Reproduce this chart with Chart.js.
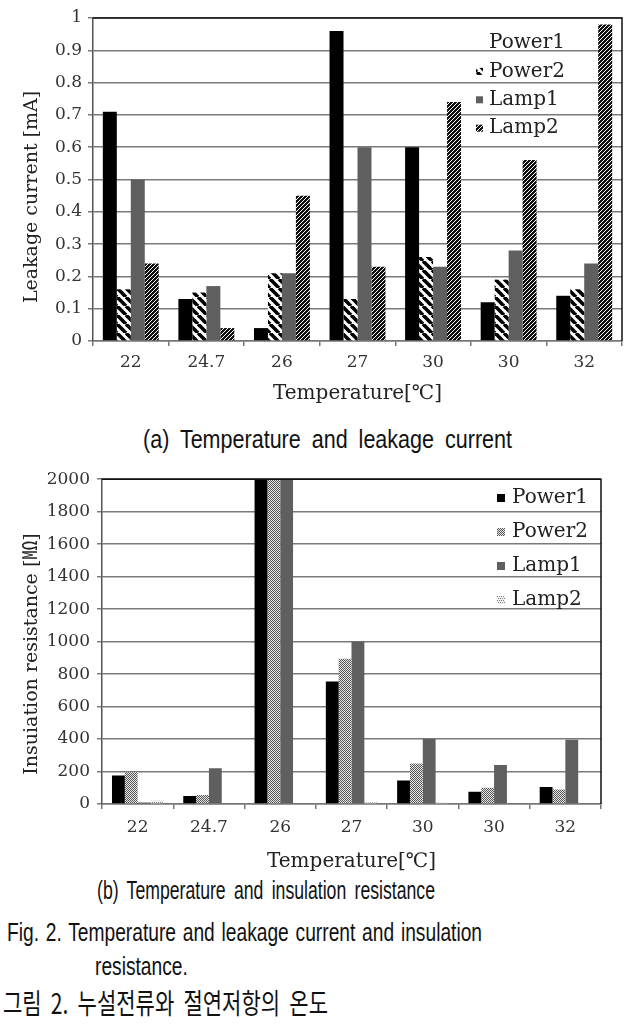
<!DOCTYPE html>
<html>
<head>
<meta charset="utf-8">
<script src="https://cdn.jsdelivr.net/npm/chart.js@4.4.1/dist/chart.umd.min.js"></script>
<style>
  html, body { margin: 0; padding: 0; background: #fff; }
  body { width: 641px; height: 1027px; position: relative; overflow: hidden; }
  canvas { position: absolute; left: 0; }
  #leakChart { top: 0; }
  #resChart { top: 462px; }
  .cap {
    position: absolute; white-space: nowrap; transform-origin: 0 0; color: #111;
    font-family: "Liberation Sans", Arial, sans-serif; font-size: 26px; line-height: 26px;
  }
  #capKor { font-family: "Noto Sans CJK KR", sans-serif; font-size: 28px; line-height: 28px; }
</style>
</head>
<body>
<canvas id="leakChart" width="641" height="410"></canvas>
<canvas id="resChart" width="641" height="412"></canvas>

<div class="cap" id="capA" style="left:143px;top:426px;word-spacing:6px">(a) Temperature and leakage current</div>
<div class="cap" id="capB" style="left:97px;top:877px;word-spacing:5px">(b) Temperature and insulation resistance</div>
<div class="cap" id="capFig" style="left:7px;top:919px;word-spacing:2px">Fig. 2. Temperature and leakage current and insulation</div>
<div class="cap" id="capFig2" style="left:95px;top:953px;word-spacing:2px">resistance.</div>
<div class="cap" id="capKor" style="left:3px;top:988px;word-spacing:6px">그림 2. 누설전류와 절연저항의 온도</div>

<script>
// Data
const temps = ['22', '24.7', '26', '27', '30', '30', '32'];
const seriesNames = ['Power1', 'Power2', 'Lamp1', 'Lamp2'];

// (a) leakage current [mA]
const leakPower1 = [0.71, 0.13, 0.04, 0.96, 0.60, 0.12, 0.14];
const leakPower2 = [0.16, 0.15, 0.21, 0.13, 0.26, 0.19, 0.16];
const leakLamp1  = [0.50, 0.17, 0.21, 0.60, 0.23, 0.28, 0.24];
const leakLamp2  = [0.24, 0.04, 0.45, 0.23, 0.74, 0.56, 0.98];

// (b) insulation resistance [MOhm]
const resPower1 = [175, 50, 2000, 755, 145, 75, 105];
const resPower2 = [195, 55, 2000, 895, 250, 100, 90];
const resLamp1  = [10, 220, 2000, 1000, 400, 240, 395];
const resLamp2  = [20, 0, 0, 10, 8, 0, 0];

const leakTicks = { min: 0, max: 1, step: 0.1 };
const resTicks = { min: 0, max: 2000, step: 200 };

const serif = '"DejaVu Serif", "Noto Sans CJK KR", serif';

// Fill patterns
function makePattern(size, draw) {
  const c = document.createElement('canvas');
  c.width = c.height = size;
  const g = c.getContext('2d');
  draw(g, size);
  return g.createPattern(c, 'repeat');
}

const stripeWide = makePattern(9, (g, s) => {
  g.fillStyle = '#fff';
  g.fillRect(0, 0, s, s);
  g.strokeStyle = '#000';
  g.lineWidth = 3.6;
  for (let k = -s; k <= s; k += s) {
    g.beginPath(); g.moveTo(k, 0); g.lineTo(k + s, s); g.stroke();
  }
});

const hatchFine = makePattern(4, (g, s) => {
  g.fillStyle = '#111';
  g.fillRect(0, 0, s, s);
  g.strokeStyle = '#fff';
  g.lineWidth = 1;
  for (let k = 0; k <= 2 * s; k += s) {
    g.beginPath(); g.moveTo(k, 0); g.lineTo(k - s, s); g.stroke();
  }
});

const dotsDark = makePattern(4, (g, s) => {
  g.fillStyle = '#e8e8e8';
  g.fillRect(0, 0, s, s);
  g.fillStyle = '#555';
  for (let y = 0; y < s; y++)
    for (let x = (y % 2); x < s; x += 2) g.fillRect(x, y, 1, 1);
});

const dotsLight = makePattern(4, (g, s) => {
  g.fillStyle = '#f4f4f4';
  g.fillRect(0, 0, s, s);
  g.fillStyle = '#777';
  for (let y = 0; y < s; y += 2)
    for (let x = (y % 4) / 2; x < s; x += 2) g.fillRect(x, y, 1, 1);
});

// Plot frame + rotated y title
const frame = {
  id: 'frame',
  afterDatasetsDraw(chart, args, opts) {
    const { ctx, chartArea: a } = chart;
    ctx.save();
    ctx.strokeStyle = '#111';
    ctx.lineWidth = 1.5;
    ctx.beginPath();
    ctx.moveTo(a.left, a.top);
    ctx.lineTo(a.right, a.top);
    ctx.lineTo(a.right, a.bottom);
    ctx.stroke();
    ctx.translate(opts.titleX, opts.titleY);
    ctx.rotate(-Math.PI / 2);
    ctx.font = opts.titleFont;
    ctx.fillStyle = '#222';
    ctx.textAlign = 'center';
    ctx.textBaseline = 'middle';
    ctx.fillText(opts.title, 0, 0);
    ctx.restore();
  }
};

// Legend drawn inside the plot area
const insideLegend = {
  id: 'insideLegend',
  afterDatasetsDraw(chart, args, opts) {
    const ctx = chart.ctx;
    ctx.save();
    ctx.font = opts.font;
    ctx.textBaseline = 'middle';
    chart.data.datasets.forEach((ds, i) => {
      const y = opts.y + i * opts.rowGap;
      if (!(opts.hideBox || []).includes(i)) {
        ctx.fillStyle = ds.backgroundColor;
        ctx.fillRect(opts.boxX, y - opts.box / 2, opts.box, opts.box);
      }
      ctx.fillStyle = '#222';
      ctx.fillText(ds.label, opts.textX, y);
    });
    ctx.restore();
  }
};

function axisX(tickPad, height, titlePadBottom) {
  return {
    grid: { offset: true, drawOnChartArea: false, drawTicks: true, tickLength: 5, color: '#777', lineWidth: 1.5 },
    border: { color: '#777', width: 1.5 },
    ticks: { color: '#333', font: { family: serif, size: 17 }, padding: tickPad },
    title: { display: true, text: 'Temperature[℃]', color: '#222', font: { family: serif, size: 20 }, padding: { top: 0, bottom: titlePadBottom } },
    afterFit: s => { s.height = height; }
  };
}

function axisY(range, width, tickPad) {
  return {
    min: range.min, max: range.max,
    ticks: {
      stepSize: range.step, color: '#333', font: { family: serif, size: 17 }, padding: tickPad,
      callback: v => String(Math.round(v * 10) / 10)
    },
    grid: { color: '#7a7a7a', lineWidth: 1.5, tickLength: 5 },
    border: { color: '#555', width: 1.5 },
    afterFit: s => { s.width = width; }
  };
}

// (a) Leakage current
new Chart(document.getElementById('leakChart'), {
  type: 'bar',
  data: {
    labels: temps,
    datasets: [
      { label: seriesNames[0], data: leakPower1, backgroundColor: '#000' },
      { label: seriesNames[1], data: leakPower2, backgroundColor: stripeWide },
      { label: seriesNames[2], data: leakLamp1, backgroundColor: '#5f5f5f' },
      { label: seriesNames[3], data: leakLamp2, backgroundColor: hatchFine }
    ]
  },
  options: {
    responsive: false,
    animation: false,
    datasets: { bar: { categoryPercentage: 0.74, barPercentage: 1, borderWidth: 0 } },
    layout: { padding: { top: 18, right: 19, left: 0, bottom: 0 } },
    scales: {
      x: axisX(6, 69, 4),
      y: axisY(leakTicks, 93, 6)
    },
    plugins: {
      legend: { display: false },
      tooltip: { enabled: false },
      frame: { title: 'Leakage current [mA]', titleX: 32, titleY: 197, titleFont: '19px ' + serif },
      insideLegend: { font: '20px ' + serif, y: 43, rowGap: 28.4, boxX: 476, box: 7, textX: 489, hideBox: [0] }
    }
  },
  plugins: [frame, insideLegend]
});

// (b) Insulation resistance
new Chart(document.getElementById('resChart'), {
  type: 'bar',
  data: {
    labels: temps,
    datasets: [
      { label: seriesNames[0], data: resPower1, backgroundColor: '#000' },
      { label: seriesNames[1], data: resPower2, backgroundColor: dotsDark },
      { label: seriesNames[2], data: resLamp1, backgroundColor: '#5f5f5f' },
      { label: seriesNames[3], data: resLamp2, backgroundColor: dotsLight }
    ]
  },
  options: {
    responsive: false,
    animation: false,
    datasets: { bar: { categoryPercentage: 0.72, barPercentage: 1, borderWidth: 0 } },
    layout: { padding: { top: 16, right: 40, left: 0, bottom: 0 } },
    scales: {
      x: axisX(8, 70, 0),
      y: axisY(resTicks, 102, 7)
    },
    plugins: {
      legend: { display: false },
      tooltip: { enabled: false },
      frame: { title: 'Insuiation resistance [㏁]', titleX: 32, titleY: 192, titleFont: '19px ' + serif },
      insideLegend: { font: '20px ' + serif, y: 36, rowGap: 34, boxX: 497, box: 8, textX: 512 }
    }
  },
  plugins: [frame, insideLegend]
});

// Squeeze caption lines to the widths of the original
function fitCaption(id, width) {
  const el = document.getElementById(id);
  el.style.transform = 'none';
  const w = el.getBoundingClientRect().width;
  const s = width / w;
  el.style.transform = 'scaleX(' + s + ')';
  return s;
}

document.fonts.ready.then(() => {
  fitCaption('capA', 369);
  fitCaption('capB', 338);
  const s = fitCaption('capFig', 475);
  document.getElementById('capFig2').style.transform = 'scaleX(' + s + ')';
  fitCaption('capKor', 325);
});
</script>
</body>
</html>
